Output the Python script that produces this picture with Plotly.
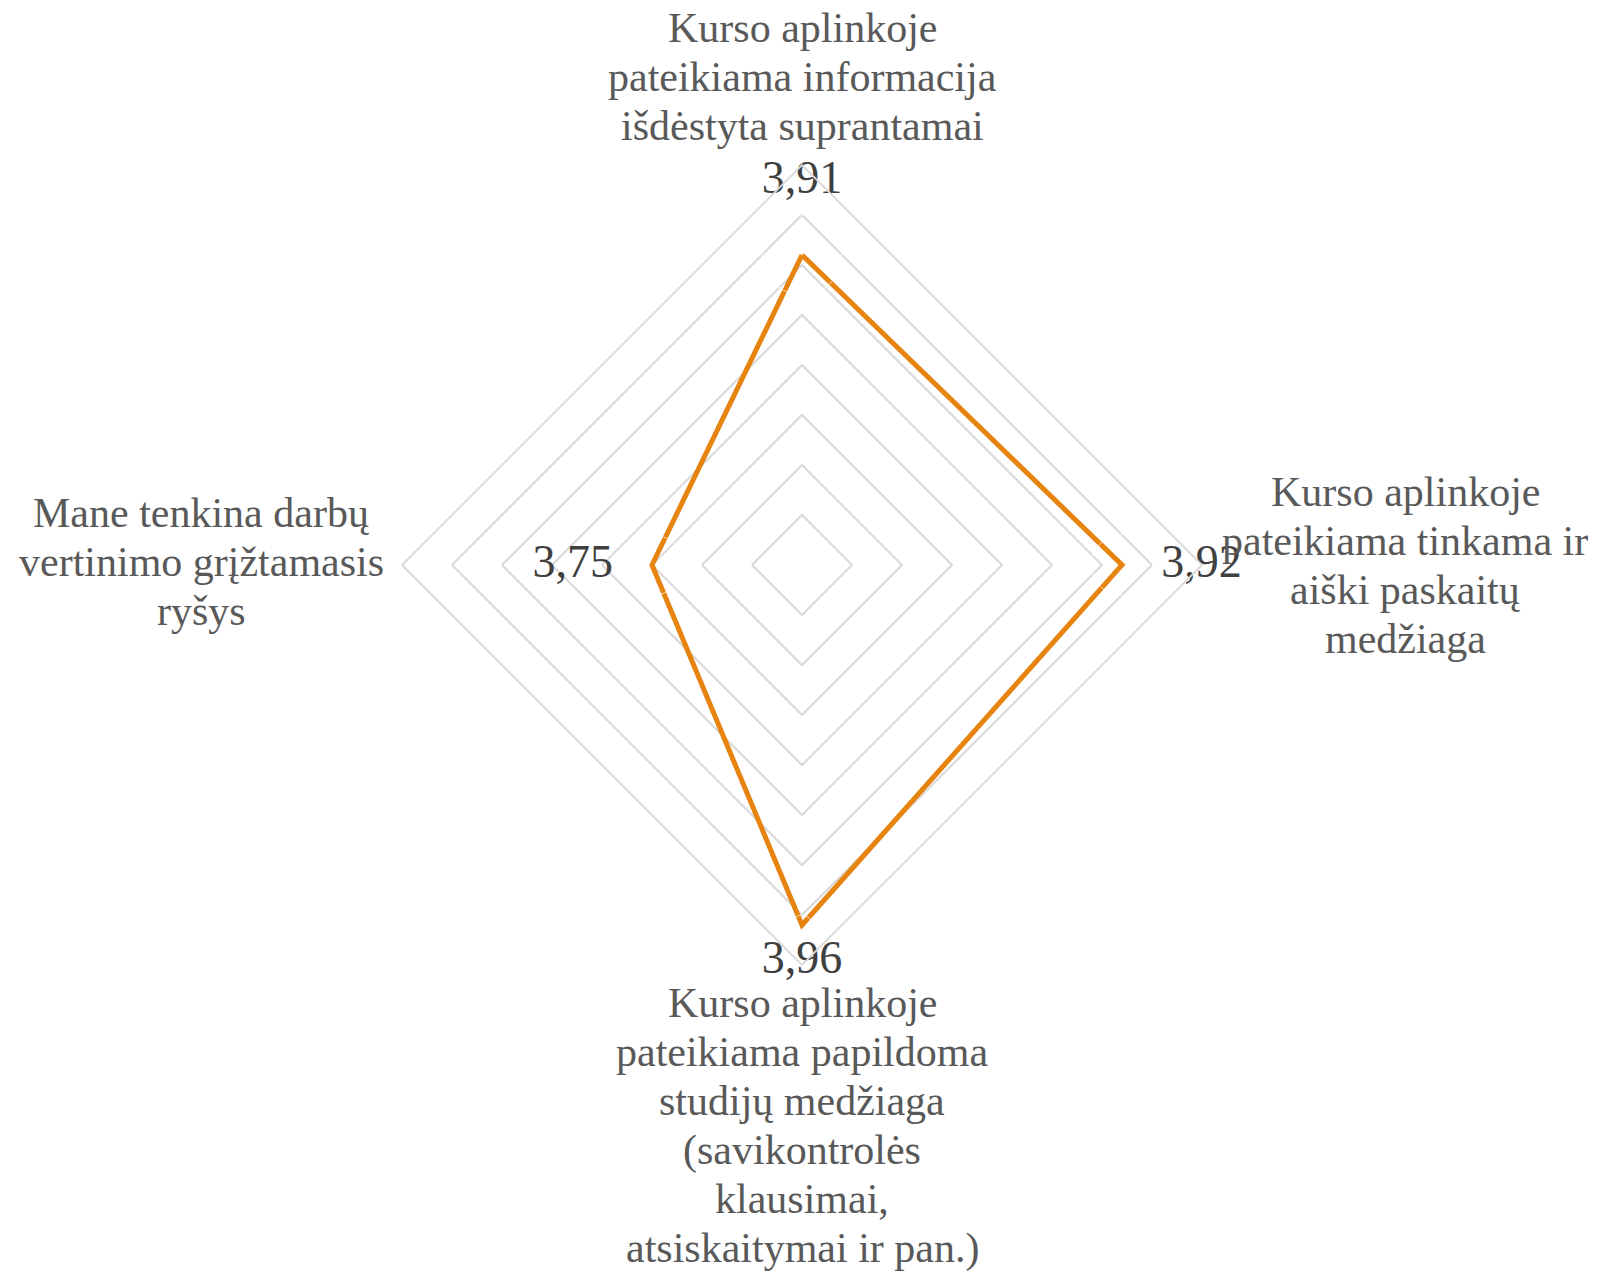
import plotly.graph_objects as go

categories = [
    "Kurso aplinkoje<br>pateikiama informacija<br>išdėstyta suprantamai",
    "Kurso aplinkoje<br>pateikiama tinkama ir<br>aiški paskaitų<br>medžiaga",
    "Kurso aplinkoje<br>pateikiama papildoma<br>studijų medžiaga<br>(savikontrolės<br>klausimai,<br>atsiskaitymai ir pan.)",
    "Mane tenkina darbų<br>vertinimo grįžtamasis<br>ryšys",
]
values = [3.91, 3.92, 3.96, 3.75]
value_labels = ["3,91", "3,92", "3,96", "3,75"]
label_positions = ["top center", "middle right", "bottom center", "middle left"]
# invisible marker sizes, only used to push each data label away from its point
label_gap = [80, 61, 20, 61]

W, H = 1616, 1273
FONT = "Liberation Serif, Times New Roman, serif"
ORANGE = "#E6840F"
GRID = "#D9D9D9"

# pixel centre of the first line of every category label
cat_anchor = [(802, 28), (1405, 492), (802, 1003), (201, 513)]
LINE_STEP = 49

fig = go.Figure()
fig.add_trace(
    go.Scatterpolar(
        r=values + values[:1],
        theta=categories + categories[:1],
        mode="lines",
        line=dict(color=ORANGE, width=5),
        showlegend=False,
        hoverinfo="skip",
    )
)
fig.add_trace(
    go.Scatterpolar(
        r=values,
        theta=categories,
        mode="markers+text",
        marker=dict(size=label_gap, color="rgba(0,0,0,0)"),
        text=value_labels,
        textposition=label_positions,
        textfont=dict(family=FONT, size=46, color="#404040"),
        showlegend=False,
        hoverinfo="skip",
    )
)

fig.update_layout(
    width=W,
    height=H,
    margin=dict(l=0, r=0, t=0, b=0),
    paper_bgcolor="white",
    plot_bgcolor="white",
    polar=dict(
        domain=dict(x=[402 / W, 1202 / W], y=[1 - 965 / H, 1 - 165 / H]),
        bgcolor="white",
        gridshape="linear",
        radialaxis=dict(
            range=[3.6, 4.0],
            dtick=0.05,
            tick0=3.6,
            showticklabels=False,
            ticks="",
            showline=False,
            gridcolor=GRID,
            gridwidth=1.8,
        ),
        angularaxis=dict(
            direction="clockwise",
            rotation=90,
            showticklabels=False,
            ticks="",
            showgrid=False,
            showline=True,
            linecolor=GRID,
            linewidth=1.8,
        ),
    ),
)

for cat, (cx, cy) in zip(categories, cat_anchor):
    for i, line in enumerate(cat.split("<br>")):
        fig.add_annotation(
            text=line,
            xref="paper",
            yref="paper",
            x=cx / W,
            y=1 - (cy + i * LINE_STEP) / H,
            xanchor="center",
            yanchor="middle",
            showarrow=False,
            font=dict(family=FONT, size=42, color="#595959"),
        )

fig.write_html(
    "out.html",
    config={"displayModeBar": False},
    post_script="document.body.style.margin = '0';",
)
